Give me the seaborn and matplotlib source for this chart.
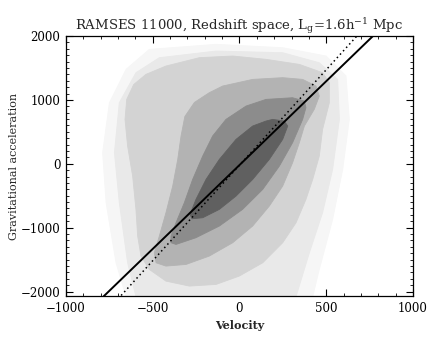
import numpy as np
import pandas as pd
import matplotlib
matplotlib.use("Agg")
import matplotlib.pyplot as plt
from matplotlib.ticker import MultipleLocator
import seaborn as sns

# density levels, outermost first (velocity, acceleration)
haze1_v = [-520, -135, 249, 499, 614, 633, 595, 537, 460, 422, -654, -712, -769, -789, -750, -654]
haze1_a = [1791, 1870, 1817, 1687, 1374, 695, -88, -871, -1654, -2080, -2080, -1550, -610, 173, 956, 1478]

haze2_v = [-462, -135, 249, 460, 566, 576, 537, 479, 403, 326, -597, -645, -693, -721, -693, -597]
haze2_a = [1661, 1765, 1739, 1582, 1321, 695, -88, -767, -1393, -2080, -2080, -1550, -610, 173, 956, 1426]

lev1_v = [-424, -231, -39, 153, 345, 479, 518, 518, 479, 460, 422, 383, 326, 249, 134, -1, -135,
          -289, -424, -520, -568, -587, -597, -616, -645, -660, -650, -610, -539]
lev1_a = [1530, 1661, 1687, 1635, 1556, 1426, 1269, 956, 538, 121, -245, -558, -923, -1236, -1550,
          -1758, -1889, -1915, -1837, -1654, -1445, -1132, -714, -192, 277, 695, 1008, 1240, 1400]

lev2_v = [-97, 76, 249, 364, 441, 460, 431, 374, 345, 306, 249, 172, 76, -39, -174, -308, -424,
          -481, -491, -462, -424, -385, -356, -337, -315, -260, -174]
lev2_a = [1217, 1321, 1348, 1321, 1217, 1060, 852, 591, 330, 16, -349, -662, -975, -1236, -1445,
          -1576, -1602, -1550, -1393, -1132, -767, -349, 69, 434, 740, 960, 1113]

lev3_v = [153, 306, 374, 383, 364, 306, 230, 134, 18, -116, -251, -366, -395, -395, -366, -318,
          -270, -212, -155, -78, 38]
lev3_a = [1008, 1034, 982, 878, 695, 330, -36, -401, -714, -975, -1158, -1263, -1236, -1132, -923,
          -610, -245, 121, 434, 695, 904]

lev4_v = [191, 258, 278, 249, 172, 76, -20, -116, -212, -274, -285, -251, -193, -116, -20, 76, 153]
lev4_a = [695, 669, 591, 382, 69, -245, -506, -714, -845, -861, -793, -558, -245, 69, 382, 591, 669]

# fitted relations
solid_v = [-800, 800]
solid_a = [-2120, 2080]
dotted_v = [-700, 700]
dotted_a = [-2115, 2070]

sns.set_style("ticks")
plt.rcParams['font.family'] = ['DejaVu Serif']
plt.rcParams['mathtext.fontset'] = 'dejavuserif'

fig = plt.figure(figsize=(4.36, 3.49), dpi=100)
ax = fig.add_axes([0.1514, 0.1519, 0.7958, 0.7449])

levels = [
    (haze1_v, haze1_a, '#f6f6f6'),
    (haze2_v, haze2_a, '#e9e9e9'),
    (lev1_v, lev1_a, '#d3d3d3'),
    (lev2_v, lev2_a, '#b3b3b3'),
    (lev3_v, lev3_a, '#8c8c8c'),
    (lev4_v, lev4_a, '#606060'),
]
for v, a, c in levels:
    ax.fill(v, a, color=c, lw=0.6, ec=c, joinstyle='round')

sns.lineplot(x=solid_v, y=solid_a, ax=ax, color='black', lw=1.4)
sns.lineplot(x=dotted_v, y=dotted_a, ax=ax, color='black', lw=1.1, linestyle=(0, (1, 2)))

ax.set_xlim(-1000, 1000)
ax.set_ylim(-2070, 2000)
ax.xaxis.set_major_locator(MultipleLocator(500))
ax.xaxis.set_minor_locator(MultipleLocator(100))
ax.yaxis.set_major_locator(MultipleLocator(1000))
ax.yaxis.set_minor_locator(MultipleLocator(100))
ax.tick_params(which='both', direction='in', top=True, right=True, labelsize=8.5, colors='black')
ax.tick_params(which='major', length=5, width=0.8, pad=4)
ax.tick_params(which='minor', length=2.5, width=0.6)
for s in ax.spines.values():
    s.set_linewidth(0.9)
    s.set_color('black')

ax.set_xlabel('Velocity', fontsize=8, fontweight='bold', labelpad=4)
ax.set_ylabel('Gravitational acceleration', fontsize=8, labelpad=1)
ax.set_title(r'RAMSES 11000, Redshift space, L$_{\rm g}$=1.6h$^{-1}$ Mpc', fontsize=9.5, pad=4)

fig.savefig('out.png', dpi=100, facecolor='white')
